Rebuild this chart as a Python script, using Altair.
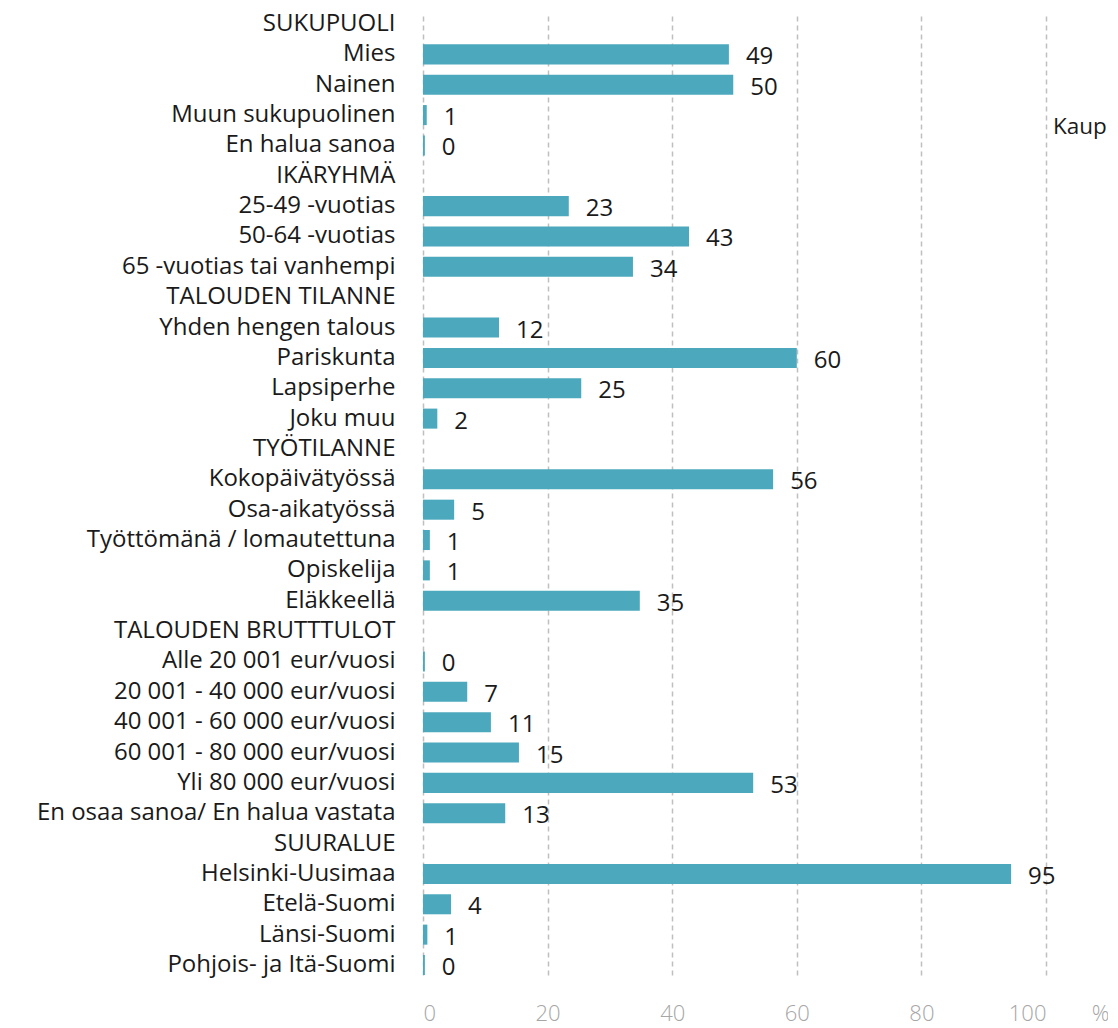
import altair as alt
import pandas as pd

categories = [
    "SUKUPUOLI", "Mies", "Nainen", "Muun sukupuolinen", "En halua sanoa",
    "IKÄRYHMÄ", "25-49 -vuotias", "50-64 -vuotias", "65 -vuotias tai vanhempi",
    "TALOUDEN TILANNE", "Yhden hengen talous", "Pariskunta", "Lapsiperhe", "Joku muu",
    "TYÖTILANNE", "Kokopäivätyössä", "Osa-aikatyössä", "Työttömänä / lomautettuna",
    "Opiskelija", "Eläkkeellä",
    "TALOUDEN BRUTTTULOT", "Alle 20 001 eur/vuosi", "20 001 - 40 000 eur/vuosi",
    "40 001 - 60 000 eur/vuosi", "60 001 - 80 000 eur/vuosi", "Yli 80 000 eur/vuosi",
    "En osaa sanoa/ En halua vastata",
    "SUURALUE", "Helsinki-Uusimaa", "Etelä-Suomi", "Länsi-Suomi", "Pohjois- ja Itä-Suomi",
]
values = [
    None, 49.1, 49.8, 0.6, 0.3,
    None, 23.4, 42.7, 33.7,
    None, 12.2, 60.0, 25.4, 2.3,
    None, 56.2, 5.0, 1.1, 1.1, 34.8,
    None, 0.3, 7.1, 10.9, 15.4, 53.0, 13.2,
    None, 94.4, 4.5, 0.7, 0.3,
]
labels = [
    None, "49", "50", "1", "0",
    None, "23", "43", "34",
    None, "12", "60", "25", "2",
    None, "56", "5", "1", "1", "35",
    None, "0", "7", "11", "15", "53", "13",
    None, "95", "4", "1", "0",
]
x_ticks = [0, 20, 40, 60, 80, 100]
legend_text = ["Kaup"]

FONT = "Open Sans"
BAR = "#4BA8BD"

df = pd.DataFrame({"cat": categories, "val": values, "lab": labels})
bars_df = df.dropna(subset=["val"])

yenc = alt.Y(
    "cat:N",
    sort=categories,
    scale=alt.Scale(domain=categories, paddingInner=0.34, paddingOuter=0.0),
    axis=alt.Axis(
        title=None, domain=False, ticks=False, grid=False,
        labelFont=FONT, labelFontSize=24, labelColor="#1a1a1a",
        labelPadding=28, labelLimit=500, labelAlign="right",
    ),
)
xenc = alt.X(
    "val:Q",
    scale=alt.Scale(domain=[0, 100], nice=False),
    axis=alt.Axis(
        values=x_ticks, domain=False, ticks=False, grid=True,
        gridDash=[5, 4], gridColor="#bfbfbf", gridWidth=1.5,
        labelFont=FONT, labelFontSize=22, labelFontWeight=300, labelColor="#a6a6a6",
        labelPadding=28,
        title="%", titleFont=FONT, titleFontSize=22, titleFontWeight=300,
        titleColor="#a6a6a6", titleX=677, titleY=28, titleAlign="center",
        titleBaseline="top", titleAngle=0,
    ),
)

base = alt.Chart(bars_df)
bars = base.mark_bar(color=BAR).encode(x=xenc, y=yenc)
text = base.mark_text(
    align="left", baseline="middle", dx=17, dy=3,
    font=FONT, fontSize=24, color="#1a1a1a",
).encode(x="val:Q", y=alt.Y("cat:N", sort=categories), text="lab:N")

leg = alt.Chart(pd.DataFrame({"t": legend_text})).mark_text(
    align="left", baseline="middle", font=FONT, fontSize=22.5, color="#1a1a1a",
).encode(x=alt.value(630), y=alt.value(113), text="t:N")

chart = (
    alt.layer(bars, text, leg)
    .properties(
        width=623, height=961,
        autosize=alt.AutoSizeParams(type="none"),
        padding={"left": 415, "top": 6, "right": 62, "bottom": 52},
    )
    .configure_view(stroke=None)
)

chart.save("out.html", embed_options={"renderer": "svg", "actions": False})
